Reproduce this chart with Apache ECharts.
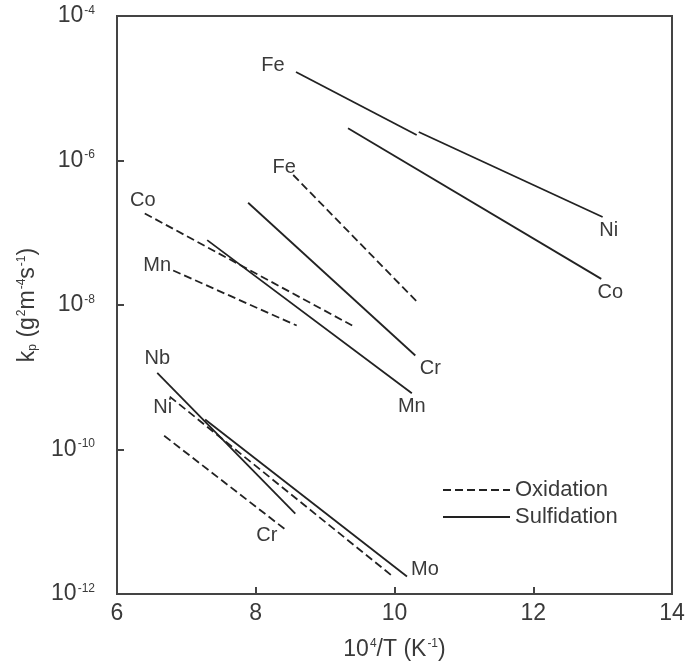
<!DOCTYPE html>
<html>
<head>
<meta charset="utf-8">
<script src="https://cdn.jsdelivr.net/npm/echarts@6/dist/echarts.min.js"></script>
<style>
  html, body { margin: 0; padding: 0; background: #fff; }
  #main { width: 688px; height: 670px; }
</style>
</head>
<body>
<div id="main"></div>
<script>
// 10^4/T (K^-1) at the two ends of each line, and kp (g^2 m^-4 s^-1)
var feS = [[8.58, 1.68e-5], [10.32, 2.25e-6]];
var niS = [[10.35, 2.48e-6], [13.0, 1.65e-7]];
var coS = [[9.33, 2.8e-6], [12.98, 2.3e-8]];
var crS = [[7.89, 2.6e-7], [10.30, 2.0e-9]];
var mnS = [[7.30, 7.9e-8], [10.25, 6.0e-10]];
var nbS = [[6.58, 1.15e-9], [8.57, 1.3e-11]];
var moS = [[7.27, 2.6e-10], [10.18, 1.75e-12]];

var feO = [[8.54, 6.3e-7], [10.34, 1.07e-8]];
var coO = [[6.40, 1.85e-7], [9.39, 5.2e-9]];
var mnO = [[6.81, 3.0e-8], [8.59, 5.2e-9]];
var niO = [[6.76, 5.4e-10], [9.96, 1.8e-12]];
var crO = [[6.68, 1.55e-10], [8.42, 7.9e-12]];

// label: text, which end (0 start, 1 end), pixel offset
var lineLabels = {
  feS: ['Fe', 0, [-23, -6]], niS: ['Ni', 1, [6, 13]], coS: ['Co', 1, [9, 14]],
  crS: ['Cr', 1, [15, 13]], mnS: ['Mn', 1, [0, 13]], nbS: ['Nb', 0, [0, -14]],
  moS: ['Mo', 1, [18, -7]],
  feO: ['Fe', 0, [-9, -8]], coO: ['Co', 0, [-2, -13]], mnO: ['Mn', 0, [-16, -5]],
  niO: ['Ni', 0, [-7, 11]], crO: ['Cr', 1, [-18, 6]]
};

var chart = echarts.init(document.getElementById('main'));
var ink = '#222';
var txt = '#3a3a3a';
var font = 'Liberation Sans';

function mk(key, pts, dashed) {
  var lb = lineLabels[key];
  var data = pts.map(function (p, i) {
    var d = { value: p };
    if (i === lb[1]) {
      d.label = { show: true, formatter: lb[0], position: 'inside', offset: lb[2],
        color: txt, fontSize: 20, fontFamily: font };
    }
    return d;
  });
  return {
    name: dashed ? 'Oxidation' : 'Sulfidation',
    type: 'line',
    data: data,
    symbol: 'circle',
    symbolSize: 0,
    silent: true,
    itemStyle: { color: ink },
    lineStyle: { color: ink, width: 1.8, type: dashed ? [8, 4] : 'solid' },
    z: dashed ? 2 : 3
  };
}

var sup = { fontSize: 12, fontFamily: font, color: txt, verticalAlign: 'top', padding: [0, 0, 0, 1] };
var big = { fontSize: 23, fontFamily: font, color: txt };

var option = {
  animation: false,
  grid: { left: 117, right: 16, top: 16, bottom: 76, show: true, borderColor: '#444', borderWidth: 2 },
  legend: {
    orient: 'vertical', left: 437, top: 474,
    itemWidth: 67, itemHeight: 14, itemGap: 5,
    itemStyle: { opacity: 0 },
    textStyle: { fontSize: 22, fontFamily: font, color: txt },
    data: ['Oxidation', 'Sulfidation']
  },
  xAxis: {
    type: 'value', min: 6, max: 14, interval: 2,
    name: '{b|10}{s|4}{b|/T (K}{s|-1}{b|)}',
    nameLocation: 'middle', nameGap: 44,
    nameTextStyle: { rich: { b: big, s: sup } },
    axisLine: { lineStyle: { color: '#444', width: 2 } },
    axisTick: { inside: true, length: 7, lineStyle: { color: '#444', width: 2 } },
    axisLabel: { fontSize: 23, fontFamily: font, color: txt, margin: 8 },
    splitLine: { show: false }
  },
  yAxis: {
    type: 'log', logBase: 100, min: 1e-12, max: 1e-4,
    name: '{b|k}{p|p}{b| (g}{s|2}{b|m}{s|-4}{b|s}{s|-1}{b|)}',
    nameLocation: 'middle', nameGap: 78, nameRotate: 90,
    nameTextStyle: { rich: { b: big, s: sup, p: { fontSize: 12, fontFamily: font, color: txt, verticalAlign: 'bottom' } } },
    axisLine: { lineStyle: { color: '#444', width: 2 } },
    axisTick: { inside: true, length: 7, lineStyle: { color: '#444', width: 2 } },
    axisLabel: {
      margin: 22,
      formatter: function (v) {
        var e = Math.round(Math.log(v) / Math.LN10);
        return '{b|10}{s|' + e + '}';
      },
      rich: { b: big, s: sup }
    },
    splitLine: { show: false }
  },
  series: [
    mk('feO', feO, true), mk('coO', coO, true), mk('mnO', mnO, true),
    mk('niO', niO, true), mk('crO', crO, true),
    mk('feS', feS, false), mk('niS', niS, false), mk('coS', coS, false),
    mk('crS', crS, false), mk('mnS', mnS, false), mk('nbS', nbS, false),
    mk('moS', moS, false)
  ]
};
chart.setOption(option);
</script>
</body>
</html>
